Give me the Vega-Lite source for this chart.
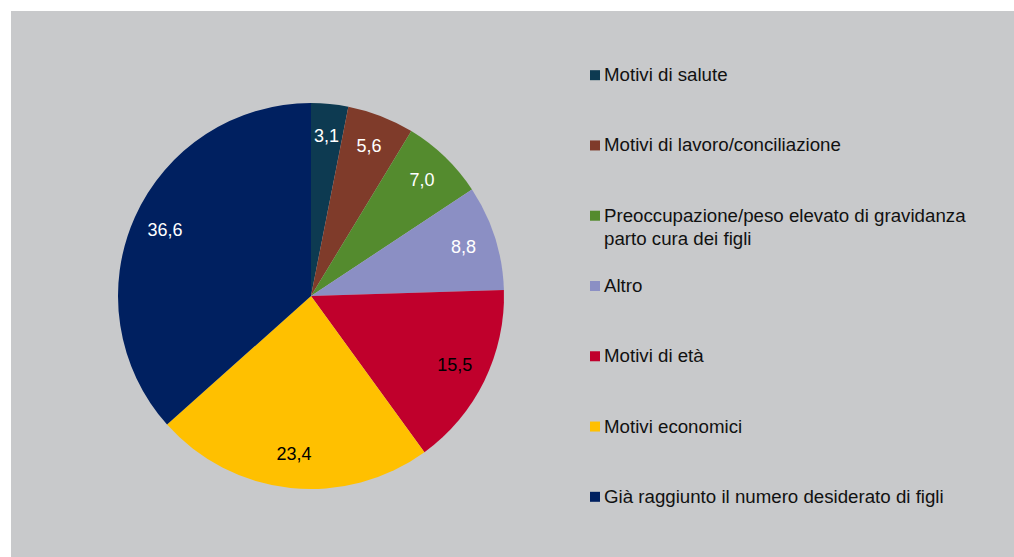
{
  "$schema": "https://vega.github.io/schema/vega-lite/v6.json",
  "background": "white",
  "padding": {"left": 11, "top": 11, "right": 0, "bottom": 0},
  "spacing": 0,
  "bounds": "flush",
  "config": {
    "view": {"fill": "#c8c9cb", "stroke": null},
    "concat": {"spacing": 0},
    "font": "Liberation Sans",
    "locale": {"number": {"decimal": ",", "thousands": ".", "grouping": [3], "currency": ["", " €"]}}
  },
  "datasets": {
    "d": [
      {"cat": "Motivi di salute", "value": 3.1, "idx": 1},
      {"cat": "Motivi di lavoro/conciliazione", "value": 5.6, "idx": 2},
      {"cat": "Preoccupazione/peso elevato di gravidanza\nparto cura dei figli", "value": 7.0, "idx": 3},
      {"cat": "Altro", "value": 8.8, "idx": 4},
      {"cat": "Motivi di età", "value": 15.5, "idx": 5},
      {"cat": "Motivi economici", "value": 23.4, "idx": 6},
      {"cat": "Già raggiunto il numero desiderato di figli", "value": 36.6, "idx": 7}
    ]
  },
  "hconcat": [
    {
      "width": 600,
      "height": 546,
      "data": {"name": "d"},
      "layer": [
        {
          "data": {"values": [{"bg": 1}]},
          "mark": {"type": "rect", "color": "#c8c9cb", "strokeWidth": 0},
          "encoding": {}
        },
        {
          "mark": {"type": "arc", "outerRadius": 193, "yOffset": 12},
          "encoding": {
            "theta": {"field": "value", "type": "quantitative", "stack": true},
            "order": {"field": "idx", "type": "quantitative"},
            "color": {
              "field": "cat", "type": "nominal",
              "scale": {
                "domain": ["Motivi di salute", "Motivi di lavoro/conciliazione", "Preoccupazione/peso elevato di gravidanza\nparto cura dei figli", "Altro", "Motivi di età", "Motivi economici", "Già raggiunto il numero desiderato di figli"],
                "range": ["#0d3a51", "#7f3b2a", "#548b2e", "#8b8fc4", "#c0002c", "#ffc000", "#002060"]
              },
              "legend": null
            }
          }
        },
        {
          "mark": {"type": "text", "radius": 160, "yOffset": 12, "fontSize": 18, "align": "center", "baseline": "middle"},
          "encoding": {
            "theta": {"field": "value", "type": "quantitative", "stack": true},
            "order": {"field": "idx", "type": "quantitative"},
            "text": {"field": "value", "type": "quantitative", "format": ".1f"},
            "color": {
              "condition": {"test": "datum.cat === 'Motivi di età' || datum.cat === 'Motivi economici'", "value": "#000000"},
              "value": "#ffffff"
            }
          }
        }
      ]
    },
    {
      "width": 403,
      "height": 546,
      "data": {"name": "d"},
      "layer": [
        {
          "mark": {"type": "point", "shape": "square", "filled": true, "size": 100, "opacity": 1, "xOffset": -16, "yOffset": 2},
          "encoding": {
            "x": {"value": 0},
            "y": {"field": "cat", "type": "nominal", "sort": {"field": "idx"}, "scale": {"type": "point", "padding": 0.885}, "axis": null},
            "color": {
              "field": "cat", "type": "nominal",
              "scale": {
                "domain": ["Motivi di salute", "Motivi di lavoro/conciliazione", "Preoccupazione/peso elevato di gravidanza\nparto cura dei figli", "Altro", "Motivi di età", "Motivi economici", "Già raggiunto il numero desiderato di figli"],
                "range": ["#0d3a51", "#7f3b2a", "#548b2e", "#8b8fc4", "#c0002c", "#ffc000", "#002060"]
              },
              "legend": null
            }
          }
        },
        {
          "mark": {"type": "text", "align": "left", "baseline": "middle", "fontSize": 18.7, "lineBreak": "\n", "lineHeight": 23, "xOffset": -7, "yOffset": 2, "color": "#111111"},
          "encoding": {
            "x": {"value": 0},
            "y": {"field": "cat", "type": "nominal", "sort": {"field": "idx"}, "scale": {"type": "point", "padding": 0.885}, "axis": null},
            "text": {"field": "cat", "type": "nominal"}
          }
        }
      ]
    }
  ]
}
